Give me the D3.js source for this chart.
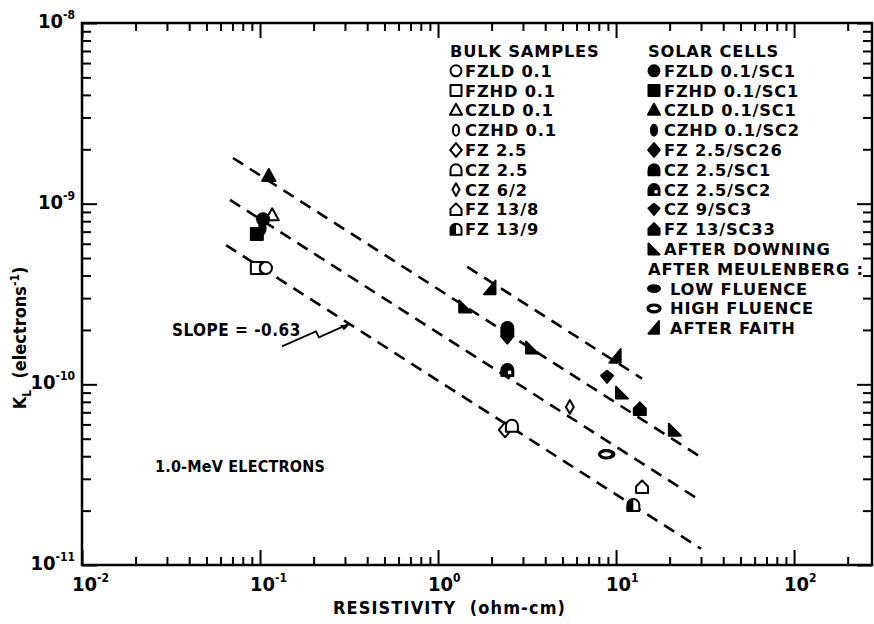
<!DOCTYPE html>
<html>
<head>
<meta charset="utf-8">
<script src="https://cdn.jsdelivr.net/npm/d3@7"></script>
<style>
  body { margin: 0; background: #fff; }
  svg text { font-family: "DejaVu Sans Condensed", "DejaVu Sans", sans-serif; font-stretch: condensed; font-weight: bold; fill: #000; }
  svg text.wide { font-family: "DejaVu Sans", sans-serif; font-stretch: normal; }
</style>
</head>
<body>
<div id="chart"></div>
<script>
// Legend entries
const bulkLabels = ["FZLD 0.1", "FZHD 0.1", "CZLD 0.1", "CZHD 0.1", "FZ 2.5", "CZ 2.5", "CZ 6/2", "FZ 13/8", "FZ 13/9"];
const cellLabels = ["FZLD 0.1/SC1", "FZHD 0.1/SC1", "CZLD 0.1/SC1", "CZHD 0.1/SC2", "FZ 2.5/SC26",
    "CZ 2.5/SC1", "CZ 2.5/SC2", "CZ 9/SC3", "FZ 13/SC33", "AFTER DOWNING", "AFTER MEULENBERG :",
    "LOW FLUENCE", "HIGH FLUENCE", "AFTER FAITH"];

// Measured points: series name, resistivity (ohm-cm), K_L (electrons^-1)
const pointSeries = ["FZHD 0.1", "CZHD 0.1", "FZLD 0.1", "CZLD 0.1",
    "FZHD 0.1/SC1", "CZHD 0.1/SC2", "FZLD 0.1/SC1", "CZLD 0.1/SC1",
    "FZ 2.5", "CZ 2.5", "CZ 6/2", "FZ 13/8", "FZ 13/9",
    "FZ 2.5/SC26", "CZ 2.5/SC1", "CZ 2.5/SC2", "CZ 9/SC3", "FZ 13/SC33",
    "AFTER DOWNING", "AFTER DOWNING", "AFTER DOWNING", "AFTER DOWNING",
    "LOW FLUENCE", "HIGH FLUENCE", "AFTER FAITH", "AFTER FAITH"];
const pointRes = [0.096, 0.104, 0.108, 0.117,
    0.096, 0.103, 0.104, 0.112,
    2.38, 2.6, 5.5, 14, 12.5,
    2.45, 2.45, 2.45, 8.9, 13.6,
    1.42, 3.37, 10.8, 21.4,
    9.0, 8.8, 1.96, 9.9];
const pointK = [4.4e-10, 4.4e-10, 4.4e-10, 8.6e-10,
    6.8e-10, 7.3e-10, 8.2e-10, 1.42e-9,
    5.6e-11, 5.9e-11, 7.5e-11, 2.7e-11, 2.15e-11,
    1.85e-10, 2.05e-10, 1.2e-10, 1.1e-10, 7.3e-11,
    2.7e-10, 1.6e-10, 9.0e-11, 5.6e-11,
    4.1e-11, 4.1e-11, 3.4e-10, 1.42e-10];

// Dashed fit lines, slope -0.63 on log-log axes
const fitSlope = -0.63;
const fitStartRes = [0.0705, 0.0678, 0.0644, 1.46];
const fitStartK = [1.79e-9, 1.05e-9, 5.9e-10, 4.47e-10];
const fitEndRes = [30, 30, 30, 14];

// Axis ticks
const xTickValues = [1e-2, 1e-1, 1e0, 1e1, 1e2];
const xTickExps = ["-2", "-1", "0", "1", "2"];
const yTickValues = [1e-8, 1e-9, 1e-10, 1e-11];
const yTickExps = ["-8", "-9", "-10", "-11"];

const width = 874, height = 624;
const plot = { left: 82, right: 872, top: 23, bottom: 565 };

const x = d3.scaleLog().domain([0.01, 274]).range([plot.left, plot.right]);
const y = d3.scaleLog().domain([1e-11, 1e-8]).range([plot.bottom, plot.top]);

const svg = d3.select("#chart").append("svg")
    .attr("width", width)
    .attr("height", height);

// symbol shapes, r is half size
const symbolStyle = {
    "FZLD 0.1": ["circle", false], "FZHD 0.1": ["square", false], "CZLD 0.1": ["triangle", false],
    "CZHD 0.1": ["narrow", false], "FZ 2.5": ["diamond", false], "CZ 2.5": ["dome", false],
    "CZ 6/2": ["thinDiamond", false], "FZ 13/8": ["house", false], "FZ 13/9": ["dome", "half"],
    "FZLD 0.1/SC1": ["circle", true], "FZHD 0.1/SC1": ["square", true], "CZLD 0.1/SC1": ["triangle", true],
    "CZHD 0.1/SC2": ["narrow", true], "FZ 2.5/SC26": ["diamond", true], "CZ 2.5/SC1": ["dome", true],
    "CZ 2.5/SC2": ["dome", "hole"], "CZ 9/SC3": ["shield", true], "FZ 13/SC33": ["house", true],
    "AFTER DOWNING": ["rtDown", true], "LOW FLUENCE": ["hEllipse", true],
    "HIGH FLUENCE": ["hEllipse", "thick"], "AFTER FAITH": ["rtFaith", true]
};

const shapePath = (type, r) => {
    switch (type) {
        case "circle": return `M${-r},0A${r},${r} 0 1,1 ${r},0A${r},${r} 0 1,1 ${-r},0Z`;
        case "square": return `M${-r},${-r}H${r}V${r}H${-r}Z`;
        case "triangle": return `M0,${-r * 1.2}L${r * 1.1},${r * 0.8}L${-r * 1.1},${r * 0.8}Z`;
        case "narrow": {
            const a = r * 0.55;
            return `M${-a},0A${a},${r} 0 1,1 ${a},0A${a},${r} 0 1,1 ${-a},0Z`;
        }
        case "diamond": return `M0,${-r * 1.25}L${r * 1.05},0L0,${r * 1.25}L${-r * 1.05},0Z`;
        case "thinDiamond": return `M0,${-r * 1.15}L${r * 0.65},0L0,${r * 1.15}L${-r * 0.65},0Z`;
        case "dome": return `M${-r},${r}V0A${r},${r} 0 0,1 ${r},0V${r}Z`;
        case "house": return `M${-r},${r}V${-r * 0.1}L0,${-r * 1.1}L${r},${-r * 0.1}V${r}Z`;
        case "shield": return `M0,${-r}L${r},${-r * 0.2}L0,${r}L${-r},${-r * 0.2}Z`;
        case "rtDown": return `M${-r},${-r}V${r}H${r}Z`;
        case "rtFaith": return `M${r * 0.9},${-r * 1.3}V${r}H${-r}Z`;
        case "hEllipse": {
            const b = r * 0.62;
            return `M${-r * 1.1},0A${r * 1.1},${b} 0 1,1 ${r * 1.1},0A${r * 1.1},${b} 0 1,1 ${-r * 1.1},0Z`;
        }
    }
};

const drawSymbol = (g, name, cx, cy, r) => {
    const [type, fill] = symbolStyle[name];
    const s = g.append("g").attr("transform", `translate(${cx},${cy})`);
    const open = fill === false || fill === "half" || fill === "thick";
    s.append("path")
        .attr("d", shapePath(type, r))
        .attr("fill", open ? "#fff" : "#000")
        .attr("stroke", "#000")
        .attr("stroke-width", fill === "thick" ? 3.2 : 2)
        .attr("stroke-linejoin", "round");
    if (fill === "half") {
        s.append("path")
            .attr("d", `M${-r},${r}V0A${r},${r} 0 0,1 0,${-r}V${r}Z`)
            .attr("fill", "#000");
    }
    if (fill === "hole") {
        s.append("rect")
            .attr("x", r * 0.1).attr("y", r * 0.1)
            .attr("width", r * 0.55).attr("height", r * 0.6)
            .attr("fill", "#fff");
    }
};

// Dashed lines
fitStartRes.forEach((x0, i) => {
    const k0 = fitStartK[i];
    const x1 = fitEndRes[i];
    const k1 = k0 * Math.pow(x1 / x0, fitSlope);
    svg.append("line")
        .attr("x1", x(x0)).attr("y1", y(k0))
        .attr("x2", x(x1)).attr("y2", y(k1))
        .attr("stroke", "#000")
        .attr("stroke-width", 2.6)
        .attr("stroke-dasharray", "12,8");
});

// Axis frame with inward ticks on all sides
const minorX = [], minorY = [];
for (let e = -2; e <= 2; e++) {
    for (let m = 2; m <= 9; m++) {
        const v = m * Math.pow(10, e);
        if (v < 274) minorX.push(v);
    }
}
for (let e = -11; e <= -9; e++) {
    for (let m = 2; m <= 9; m++) minorY.push(m * Math.pow(10, e));
}

const axisG = svg.append("g").attr("class", "frame");
axisG.append("g").attr("transform", `translate(0,${plot.bottom})`)
    .call(d3.axisBottom(x).tickValues(minorX).tickSize(-8).tickFormat(""));
axisG.append("g").attr("transform", `translate(0,${plot.bottom})`)
    .call(d3.axisBottom(x).tickValues(xTickValues).tickSize(-15).tickFormat(""));
axisG.append("g").attr("transform", `translate(0,${plot.top})`)
    .call(d3.axisTop(x).tickValues(minorX).tickSize(-8).tickFormat(""));
axisG.append("g").attr("transform", `translate(0,${plot.top})`)
    .call(d3.axisTop(x).tickValues(xTickValues).tickSize(-15).tickFormat(""));
axisG.append("g").attr("transform", `translate(${plot.left},0)`)
    .call(d3.axisLeft(y).tickValues(minorY).tickSize(-9).tickFormat(""));
axisG.append("g").attr("transform", `translate(${plot.left},0)`)
    .call(d3.axisLeft(y).tickValues(yTickValues).tickSize(-15).tickFormat(""));
axisG.append("g").attr("transform", `translate(${plot.right},0)`)
    .call(d3.axisRight(y).tickValues(minorY).tickSize(-9).tickFormat(""));
axisG.append("g").attr("transform", `translate(${plot.right},0)`)
    .call(d3.axisRight(y).tickValues(yTickValues).tickSize(-15).tickFormat(""));
axisG.selectAll(".domain").remove();
axisG.selectAll("line").attr("stroke", "#000").attr("stroke-width", 2);

svg.append("rect")
    .attr("x", plot.left).attr("y", plot.top)
    .attr("width", plot.right - plot.left).attr("height", plot.bottom - plot.top)
    .attr("fill", "none").attr("stroke", "#000").attr("stroke-width", 2.5);

// Tick labels
xTickValues.forEach((v, i) => {
    const t = svg.append("text")
        .attr("x", x(v) - 10).attr("y", plot.bottom + 26)
        .attr("font-size", 20);
    t.append("tspan").text("10");
    t.append("tspan").attr("dy", -9).attr("font-size", 12).text(xTickExps[i]);
});
yTickValues.forEach((v, i) => {
    const t = svg.append("text")
        .attr("x", plot.left - 7).attr("y", y(v) + 5)
        .attr("text-anchor", "end")
        .attr("font-size", 20);
    t.append("tspan").text("10");
    t.append("tspan").attr("dy", -9).attr("font-size", 12).text(yTickExps[i]);
});

// Axis titles
svg.append("text")
    .attr("x", 333).attr("y", 614)
    .attr("font-size", 18)
    .attr("textLength", 232)
    .attr("lengthAdjust", "spacing")
    .attr("xml:space", "preserve")
    .text("RESISTIVITY  (ohm-cm)");

const yTitle = svg.append("text")
    .attr("transform", "translate(26,338) rotate(-90)")
    .attr("text-anchor", "middle")
    .attr("font-size", 18)
    .attr("xml:space", "preserve");
yTitle.append("tspan").text("K");
yTitle.append("tspan").attr("dy", 5).attr("font-size", 12).text("L");
yTitle.append("tspan").attr("dy", -5).text("  (electrons");
yTitle.append("tspan").attr("dy", -7).attr("font-size", 12).text("-1");
yTitle.append("tspan").attr("dy", 7).text(")");

// Data points
const pointsG = svg.append("g");
pointSeries.forEach((name, i) => {
    drawSymbol(pointsG, name, x(pointRes[i]), y(pointK[i]), 6);
});

// Legend
const legendTop = 51, rowGap = 19.8;
const legendG = svg.append("g");
const legendText = (tx, ty, label) => legendG.append("text")
    .attr("class", "wide")
    .attr("x", tx).attr("y", ty + 6)
    .attr("font-size", 16.3)
    .attr("letter-spacing", 0.8)
    .text(label);

legendText(450, legendTop, "BULK SAMPLES");
bulkLabels.forEach((label, i) => {
    const ty = legendTop + (i + 1) * rowGap;
    drawSymbol(legendG, label, 456, ty, 5.5);
    legendText(465, ty, label);
});
legendText(648, legendTop, "SOLAR CELLS");
cellLabels.forEach((label, i) => {
    const ty = legendTop + (i + 1) * rowGap;
    if (symbolStyle[label]) {
        drawSymbol(legendG, label, 654, ty, 5.5);
        legendText(i >= 11 ? 670 : 664, ty, label);
    } else {
        legendText(648, ty, label);
    }
});

// Annotations: arrow points at the lowest fit line
const slopeRes = 0.32;
const slopeK = fitStartK[2] * Math.pow(slopeRes / fitStartRes[2], fitSlope);
const tipX = x(slopeRes), tipY = y(slopeK);
svg.append("text")
    .attr("x", tipX - 178).attr("y", tipY + 12)
    .attr("font-size", 17)
    .attr("letter-spacing", 0.5)
    .text("SLOPE = -0.63");
svg.append("path")
    .attr("d", `M${tipX - 68},${tipY + 22}L${tipX - 34},${tipY + 7}L${tipX - 31},${tipY + 13}L${tipX - 2},${tipY}`)
    .attr("fill", "none").attr("stroke", "#000").attr("stroke-width", 1.8);
svg.append("path")
    .attr("d", `M${tipX},${tipY}l-10,1l4,5Z`)
    .attr("fill", "#000");

svg.append("text")
    .attr("x", 155).attr("y", 472)
    .attr("font-size", 16)
    .attr("letter-spacing", 0.2)
    .text("1.0-MeV ELECTRONS");
</script>
</body>
</html>
